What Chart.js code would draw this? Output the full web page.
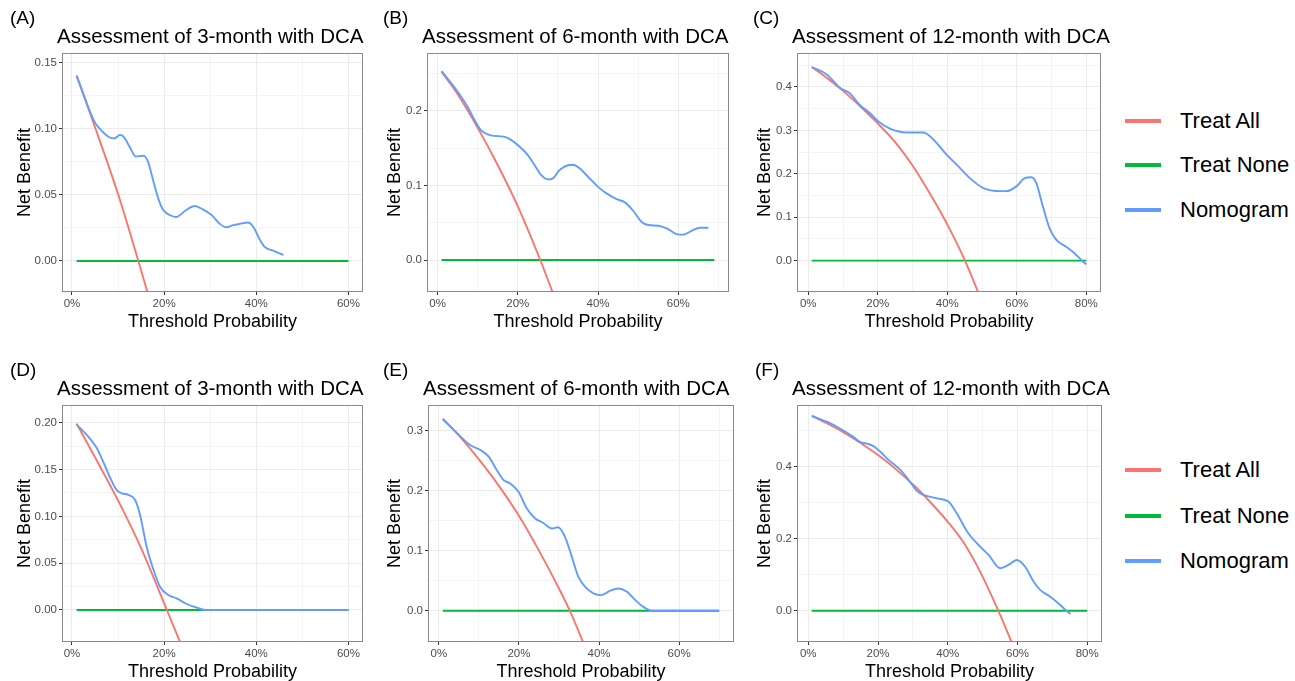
<!DOCTYPE html>
<html>
<head>
<meta charset="utf-8">
<script src="https://cdn.jsdelivr.net/npm/chart.js@4.4.1/dist/chart.umd.min.js"></script>
<style>
  html, body { margin: 0; padding: 0; background: #fff; overflow: hidden; }
  body { width: 1295px; height: 681px; position: relative; font-family: "Liberation Sans", Arial, sans-serif; }
  canvas { position: absolute; }
  .legend { position: absolute; left: 1125px; width: 170px; }
  .item { position: absolute; left: 0; }
  .key { position: absolute; left: 0; top: -2px; width: 36px; height: 4px; }
  .lab { position: absolute; left: 55px; top: -13px; font-size: 22px; line-height: 26px; white-space: nowrap; color: #000; }
</style>
</head>
<body>
<canvas id="cA" width="368" height="331" style="left:0px;top:0px"></canvas>
<canvas id="cB" width="368" height="331" style="left:370px;top:0px"></canvas>
<canvas id="cC" width="378" height="331" style="left:740px;top:0px"></canvas>
<canvas id="cD" width="368" height="329" style="left:0px;top:352px"></canvas>
<canvas id="cE" width="368" height="329" style="left:370px;top:352px"></canvas>
<canvas id="cF" width="378" height="329" style="left:740px;top:352px"></canvas>

<div class="legend" style="top:0px">
  <div class="item" style="top:121px"><div class="key" style="background:#F8766D"></div><div class="lab">Treat All</div></div>
  <div class="item" style="top:165px"><div class="key" style="background:#00BA38"></div><div class="lab">Treat None</div></div>
  <div class="item" style="top:210px"><div class="key" style="background:#619CFF"></div><div class="lab">Nomogram</div></div>
</div>
<div class="legend" style="top:0px">
  <div class="item" style="top:470px"><div class="key" style="background:#F8766D"></div><div class="lab">Treat All</div></div>
  <div class="item" style="top:516px"><div class="key" style="background:#00BA38"></div><div class="lab">Treat None</div></div>
  <div class="item" style="top:561px"><div class="key" style="background:#619CFF"></div><div class="lab">Nomogram</div></div>
</div>

<script>
// titles and tags
var tags = ['(A)', '(B)', '(C)', '(D)', '(E)', '(F)'];
var titles = ['Assessment of 3-month with DCA', 'Assessment of 6-month with DCA', 'Assessment of 12-month with DCA',
              'Assessment of 3-month with DCA', 'Assessment of 6-month with DCA', 'Assessment of 12-month with DCA'];
var seriesNames = ['Treat All', 'Treat None', 'Nomogram'];

// tick values / labels
var xMajor60 = [0, 0.2, 0.4, 0.6];
var xMinor60 = [0.1, 0.3, 0.5];
var xLabels60 = ['0%', '20%', '40%', '60%'];
var xMinor70 = [0.1, 0.3, 0.5, 0.7];
var xMajor80 = [0, 0.2, 0.4, 0.6, 0.8];
var xMinor80 = [0.1, 0.3, 0.5, 0.7];
var xLabels80 = ['0%', '20%', '40%', '60%', '80%'];

var yMajorA = [0, 0.05, 0.10, 0.15];
var yMinorA = [0.025, 0.075, 0.125];
var yLabelsA = ['0.00', '0.05', '0.10', '0.15'];
var yMajorB = [0, 0.1, 0.2];
var yMinorB = [0.05, 0.15, 0.25];
var yLabelsB = ['0.0', '0.1', '0.2'];
var yMajorC = [0, 0.1, 0.2, 0.3, 0.4];
var yMinorC = [0.05, 0.15, 0.25, 0.35, 0.45];
var yLabelsC = ['0.0', '0.1', '0.2', '0.3', '0.4'];
var yMajorD = [0, 0.05, 0.10, 0.15, 0.20];
var yMinorD = [0.025, 0.075, 0.125, 0.175];
var yLabelsD = ['0.00', '0.05', '0.10', '0.15', '0.20'];
var yMajorE = [0, 0.1, 0.2, 0.3];
var yMinorE = [0.05, 0.15, 0.25];
var yLabelsE = ['0.0', '0.1', '0.2', '0.3'];
var yMajorF = [0, 0.2, 0.4];
var yMinorF = [0.1, 0.3, 0.5];
var yLabelsF = ['0.0', '0.2', '0.4'];

// [threshold, net benefit]
var treatAllA = [[0.01,0.140],[0.05,0.101],[0.10,0.0505],[0.144,0.0],[0.17,-0.031]];
var treatNoneA = [[0.01,0],[0.60,0]];
var nomogramA = [[0.01,0.140],[0.049,0.105],[0.06,0.100],[0.081,0.0934],[0.092,0.0926],[0.104,0.0951],[0.112,0.0939],
  [0.125,0.0863],[0.139,0.0788],[0.155,0.0795],[0.165,0.075],[0.176,0.061],[0.186,0.0486],[0.197,0.039],[0.212,0.0347],
  [0.226,0.0332],[0.248,0.0385],[0.266,0.0415],[0.284,0.039],[0.303,0.0347],[0.321,0.028],[0.335,0.0254],[0.35,0.027],
  [0.364,0.028],[0.382,0.029],[0.393,0.026],[0.408,0.0159],[0.419,0.0103],[0.437,0.0078],[0.459,0.0045]];

var treatAllB = [[0.01,0.252],[0.05,0.222],[0.10,0.177],[0.15,0.127],[0.20,0.072],[0.256,0.0],[0.29,-0.048]];
var treatNoneB = [[0.01,0],[0.69,0]];
var nomogramB = [[0.01,0.253],[0.05,0.2254],[0.075,0.205],[0.092,0.1875],[0.108,0.174],[0.133,0.167],[0.167,0.165],
  [0.183,0.161],[0.204,0.152],[0.225,0.1406],[0.242,0.127],[0.258,0.114],[0.275,0.108],[0.2875,0.1094],[0.304,0.1205],
  [0.325,0.127],[0.3375,0.1277],[0.354,0.123],[0.375,0.1116],[0.40,0.098],[0.421,0.0893],[0.446,0.0817],[0.467,0.0772],
  [0.4875,0.066],[0.508,0.0513],[0.525,0.0469],[0.55,0.046],[0.571,0.0424],[0.596,0.0348],[0.6125,0.034],[0.633,0.039],
  [0.654,0.0433],[0.675,0.0433]];

var treatAllC = [[0.01,0.446],[0.05,0.423],[0.10,0.391],[0.15,0.355],[0.20,0.316],[0.25,0.273],[0.30,0.219],[0.34,0.168],
  [0.38,0.113],[0.41,0.068],[0.451,0.0],[0.49,-0.075]];
var treatNoneC = [[0.01,0],[0.80,0]];
var nomogramC = [[0.01,0.446],[0.053,0.429],[0.091,0.398],[0.12,0.385],[0.149,0.358],[0.177,0.34],[0.201,0.321],
  [0.235,0.304],[0.283,0.295],[0.331,0.295],[0.36,0.279],[0.398,0.244],[0.427,0.221],[0.465,0.19],[0.504,0.167],
  [0.552,0.16],[0.57,0.16],[0.599,0.171],[0.623,0.19],[0.642,0.192],[0.656,0.179],[0.675,0.125],[0.694,0.075],
  [0.714,0.048],[0.742,0.032],[0.766,0.017],[0.79,-0.002],[0.80,-0.0085]];

var treatAllD = [[0.01,0.199],[0.05,0.163],[0.10,0.117],[0.15,0.066],[0.206,0.0],[0.236,-0.036]];
var treatNoneD = [[0.01,0],[0.60,0]];
var nomogramD = [[0.01,0.198],[0.032,0.187],[0.054,0.1726],[0.068,0.158],[0.082,0.142],[0.097,0.128],[0.108,0.1246],
  [0.122,0.123],[0.137,0.1174],[0.148,0.101],[0.162,0.0676],[0.177,0.0427],[0.191,0.0249],[0.209,0.016],[0.227,0.0125],
  [0.249,0.0064],[0.271,0.0025],[0.289,0],[0.40,0],[0.60,0]];

var treatAllE = [[0.01,0.32],[0.05,0.292],[0.10,0.252],[0.15,0.208],[0.20,0.158],[0.25,0.1],[0.30,0.037],[0.327,0.0],[0.36,-0.052]];
var treatNoneE = [[0.01,0],[0.70,0]];
var nomogramE = [[0.01,0.319],[0.045,0.296],[0.078,0.276],[0.103,0.268],[0.124,0.257],[0.145,0.234],[0.161,0.218],
  [0.178,0.212],[0.199,0.198],[0.219,0.171],[0.24,0.154],[0.261,0.146],[0.282,0.137],[0.298,0.139],[0.315,0.123],
  [0.332,0.09],[0.348,0.057],[0.365,0.04],[0.386,0.029],[0.406,0.026],[0.427,0.033],[0.448,0.037],[0.469,0.032],
  [0.49,0.018],[0.51,0.0067],[0.531,0],[0.70,0]];

var treatAllF = [[0.01,0.541],[0.05,0.522],[0.10,0.496],[0.15,0.466],[0.206,0.428],[0.25,0.394],[0.302,0.349],[0.33,0.322],
  [0.40,0.247],[0.445,0.19],[0.493,0.108],[0.545,0.0],[0.585,-0.092]];
var treatNoneF = [[0.01,0],[0.80,0]];
var nomogramF = [[0.01,0.541],[0.053,0.525],[0.091,0.506],[0.129,0.483],[0.148,0.469],[0.172,0.463],[0.187,0.457],
  [0.206,0.442],[0.23,0.419],[0.264,0.391],[0.292,0.358],[0.311,0.333],[0.33,0.322],[0.369,0.312],[0.402,0.303],
  [0.426,0.27],[0.459,0.215],[0.493,0.178],[0.517,0.155],[0.55,0.118],[0.574,0.127],[0.598,0.141],[0.622,0.122],
  [0.646,0.081],[0.665,0.058],[0.694,0.039],[0.718,0.02],[0.738,0.002],[0.752,-0.009]];

var colors = ['#F8766D', '#00BA38', '#619CFF'];
var FONT = '"Liberation Sans", Arial, sans-serif';
Chart.defaults.font.family = FONT;

// frame round the panel + title and tag above it
var panelDeco = {
  id: 'panelDeco',
  afterDatasetsDraw: function(chart) {
    var ca = chart.chartArea, ctx = chart.ctx;
    ctx.save();
    ctx.strokeStyle = '#8a8a8a';
    ctx.lineWidth = 1;
    ctx.strokeRect(ca.left - 0.5, ca.top - 0.5, ca.right - ca.left + 1, ca.bottom - ca.top + 1);
    ctx.restore();
  },
  afterDraw: function(chart, args, o) {
    var ca = chart.chartArea, ctx = chart.ctx;
    ctx.save();
    ctx.fillStyle = '#000';
    ctx.textBaseline = 'middle';
    ctx.textAlign = 'left';
    ctx.font = '19px ' + FONT;
    ctx.fillText(o.tag, o.tagX, 19);
    ctx.font = '20.5px ' + FONT;
    ctx.fillText(o.title, ca.left - 6, ca.top - 17);
    ctx.restore();
  }
};

function findIdx(list, v) {
  for (var i = 0; i < list.length; i++) if (Math.abs(list[i] - v) < 1e-9) return i;
  return -1;
}

function makeAxis(pos, min, max, majors, minors, labels, title, fitSize) {
  var all = majors.concat(minors).sort(function(a, b) { return a - b; });
  return {
    type: 'linear',
    position: pos,
    min: min,
    max: max,
    afterBuildTicks: function(scale) {
      scale.ticks = all.map(function(v) { return { value: v }; });
    },
    afterFit: function(scale) {
      if (pos === 'left') scale.width = fitSize; else scale.height = fitSize;
    },
    border: { display: false },
    grid: {
      color: function(c) { return c.tick && findIdx(majors, c.tick.value) >= 0 ? '#ebebeb' : '#f4f4f4'; },
      lineWidth: 1,
      tickColor: function(c) { return c.tick && findIdx(majors, c.tick.value) >= 0 ? '#333333' : 'rgba(0,0,0,0)'; },
      tickWidth: 1,
      tickLength: 4,
      drawTicks: true
    },
    ticks: {
      autoSkip: false,
      maxRotation: 0,
      minRotation: 0,
      padding: 2,
      color: '#4d4d4d',
      font: { size: 11.5 },
      callback: function(value) {
        var i = findIdx(majors, value);
        return i < 0 ? '' : labels[i];
      }
    },
    title: {
      display: true,
      text: title,
      color: '#000',
      font: { size: 18, lineHeight: 1 },
      padding: pos === 'left' ? { top: 16, bottom: 0 } : { top: 0, bottom: 0 }
    }
  };
}

function toPts(arr) {
  return arr.map(function(d) { return { x: d[0], y: d[1] }; });
}

// canvas geometry: y-axis box width, right padding, tag x
var panels = [
  { id: 'cA', all: treatAllA, none: treatNoneA, nomo: nomogramA, x: [-0.0195, 0.6295], y: [-0.0227, 0.1563],
    xMaj: xMajor60, xMin: xMinor60, xLab: xLabels60, yMaj: yMajorA, yMin: yMinorA, yLab: yLabelsA, yw: 63, pr: 6, tagX: 10 },
  { id: 'cB', all: treatAllB, none: treatNoneB, nomo: nomogramB, x: [-0.024, 0.724], y: [-0.0415, 0.276],
    xMaj: xMajor60, xMin: xMinor70, xLab: xLabels60, yMaj: yMajorB, yMin: yMinorB, yLab: yLabelsB, yw: 58, pr: 10, tagX: 13 },
  { id: 'cC', all: treatAllC, none: treatNoneC, nomo: nomogramC, x: [-0.0295, 0.8395], y: [-0.070, 0.476],
    xMaj: xMajor80, xMin: xMinor80, xLab: xLabels80, yMaj: yMajorC, yMin: yMinorC, yLab: yLabelsC, yw: 58, pr: 18, tagX: 13 },
  { id: 'cD', all: treatAllD, none: treatNoneD, nomo: nomogramD, x: [-0.0195, 0.6295], y: [-0.0331, 0.2178],
    xMaj: xMajor60, xMin: xMinor60, xLab: xLabels60, yMaj: yMajorD, yMin: yMinorD, yLab: yLabelsD, yw: 63, pr: 6, tagX: 10 },
  { id: 'cE', all: treatAllE, none: treatNoneE, nomo: nomogramE, x: [-0.0245, 0.7345], y: [-0.0505, 0.341],
    xMaj: xMajor60, xMin: xMinor70, xLab: xLabels60, yMaj: yMajorE, yMin: yMinorE, yLab: yLabelsE, yw: 59, pr: 5, tagX: 13 },
  { id: 'cF', all: treatAllF, none: treatNoneF, nomo: nomogramF, x: [-0.0295, 0.8395], y: [-0.0842, 0.5686],
    xMaj: xMajor80, xMin: xMinor80, xLab: xLabels80, yMaj: yMajorF, yMin: yMinorF, yLab: yLabelsF, yw: 58, pr: 17, tagX: 15 }
];

panels.forEach(function(p, k) {
  var line = function(data, name, color) {
    return {
      label: name,
      data: toPts(data),
      showLine: true,
      borderColor: color,
      backgroundColor: color,
      borderWidth: 1.9,
      pointRadius: 0,
      cubicInterpolationMode: 'monotone',
      fill: false,
      clip: 0
    };
  };
  new Chart(document.getElementById(p.id), {
    type: 'scatter',
    data: {
      datasets: [
        line(p.nomo, seriesNames[2], colors[2]),
        line(p.all, seriesNames[0], colors[0]),
        line(p.none, seriesNames[1], colors[1])
      ]
    },
    options: {
      responsive: false,
      animation: false,
      devicePixelRatio: 1,
      events: [],
      layout: { padding: { top: 54, left: 0, right: p.pr, bottom: 0 } },
      scales: {
        x: makeAxis('bottom', p.x[0], p.x[1], p.xMaj, p.xMin, p.xLab, 'Threshold Probability', 40),
        y: makeAxis('left', p.y[0], p.y[1], p.yMaj, p.yMin, p.yLab, 'Net Benefit', p.yw)
      },
      plugins: {
        legend: { display: false },
        tooltip: { enabled: false },
        panelDeco: { tag: tags[k], title: titles[k], tagX: p.tagX }
      }
    },
    plugins: [panelDeco]
  });
});
</script>
</body>
</html>
